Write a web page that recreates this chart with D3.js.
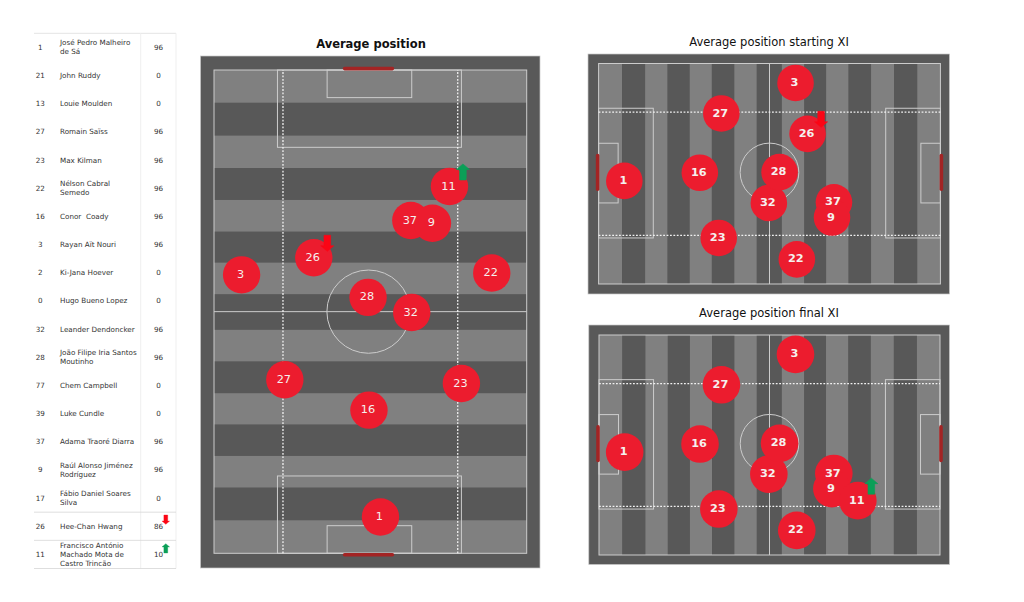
<!DOCTYPE html>
<html>
<head>
<meta charset="utf-8">
<style>
    html, body { margin: 0; background: #fff; }
    svg { display: block; }
    text { font-family: "DejaVu Sans", sans-serif; white-space: pre; }
</style>
<script src="https://d3js.org/d3.v7.min.js"></script>
</head>
<body>
<svg width="1024" height="602"></svg>
<script>
// table
var shirtNumbers = [1, 21, 13, 27, 23, 22, 16, 3, 2, 0, 32, 28, 77, 39, 37, 9, 17, 26, 11];
var playerNames = [
    ["José Pedro Malheiro", "de Sá"], ["John Ruddy"], ["Louie Moulden"], ["Romain Saïss"], ["Max Kilman"],
    ["Nélson Cabral", "Semedo"], ["Conor  Coady"], ["Rayan Aït Nouri"], ["Ki-Jana Hoever"], ["Hugo Bueno Lopez"],
    ["Leander Dendoncker"], ["João Filipe Iria Santos", "Moutinho"], ["Chem Campbell"], ["Luke Cundle"],
    ["Adama Traoré Diarra"], ["Raúl Alonso Jiménez", "Rodríguez"], ["Fábio Daniel Soares", "Silva"],
    ["Hee-Chan Hwang"], ["Francisco António", "Machado Mota de", "Castro Trincão"]
];
var minutesPlayed = [96, 0, 0, 96, 96, 96, 96, 96, 0, 0, 96, 96, 0, 0, 96, 96, 0, 86, 10];

// average positions, metres: along the pitch and across it
var positionNumbers = [1, 27, 23, 22, 16, 3, 32, 28, 37, 9, 26, 11];
var positionLength = [7.9, 37.7, 36.9, 60.9, 31.1, 60.5, 52.3, 55.6, 72.3, 71.7, 64.2, 79.7];
var positionWidth = [36.2, 15.4, 53.8, 60.4, 33.7, 6, 43, 33.5, 42.8, 47.5, 21.7, 51.2];

var startingXI = [1, 27, 23, 22, 16, 3, 32, 28, 37, 9, 26];
var finalXI = [1, 27, 23, 22, 16, 3, 32, 28, 37, 9, 11];
var subbedOff = 26, subbedOn = 11;

// mowing stripes, metres
var stripeEdges = [0, 7.2, 14.3, 21.2, 28, 34.8, 41.7, 48.6, 56.3, 63.2, 69.9, 76.8, 83.7, 90.8, 97.9, 105];

var svg = d3.select("svg");
var RED = "#ec1c2e", LINE = "#cccccc";

// arrow pointing up, flipped for the red one
var arrowShape = [[0, -8], [6.5, -2.5], [3.3, -2.5], [3.3, 8], [-3.3, 8], [-3.3, -2.5], [-6.5, -2.5]];
var arrowPath = "M" + arrowShape.join("L") + "Z";

function arrow(sel, cx, cy, up, scale) {
    sel.append("path")
        .attr("d", arrowPath)
        .attr("fill", up ? "#0a9f57" : "#fb0515")
        .attr("stroke", up ? "#0a9f57" : "#fb0515")
        .attr("stroke-width", 0.6)
        .attr("transform", "translate(" + cx + "," + cy + ") scale(" + scale + "," + (up ? scale : -scale) + ")");
}

/* ---------- table ---------- */
var rowY = d3.scaleBand().domain(d3.range(shirtNumbers.length)).range([33.3, 568.5]);
var tbl = svg.append("g");

tbl.append("line").attr("x1", 34).attr("x2", 176).attr("y1", 33.3).attr("y2", 33.3).attr("stroke", "#e4e4e4");
[140.7, 176].forEach(function(x) {
    tbl.append("line").attr("x1", x).attr("x2", x).attr("y1", 33.3).attr("y2", 568.5).attr("stroke", "#efefef");
});
[17, 18, 19].forEach(function(i) {
    var yy = i < 19 ? rowY(i) : 568.5;
    tbl.append("line").attr("x1", 34).attr("x2", 176).attr("y1", yy).attr("y2", yy).attr("stroke", "#d6d6d6").attr("stroke-width", 0.8);
});

var rows = tbl.selectAll(".row").data(shirtNumbers).enter().append("g")
    .attr("class", "row")
    .attr("transform", function(d, i) { return "translate(0," + (rowY(i) + rowY.bandwidth() / 2) + ")"; })
    .attr("font-size", 7.2)
    .attr("fill", "#333");

rows.append("text").attr("x", 40.3).attr("y", 2.5).attr("text-anchor", "middle").text(function(d) { return d; });
rows.append("text").attr("x", 158.5).attr("y", 2.5).attr("text-anchor", "middle").text(function(d, i) { return minutesPlayed[i]; });
rows.each(function(d, i) {
    var names = playerNames[i];
    d3.select(this).selectAll(".nm").data(names).enter().append("text")
        .attr("class", "nm")
        .attr("x", 60)
        .attr("y", function(n, j) { return 2.5 + (j - (names.length - 1) / 2) * 9.2; })
        .text(function(n) { return n; });
});
arrow(tbl, 165.8, rowY(17) + 7.5, false, 0.58);
arrow(tbl, 165.8, rowY(18) + 8, true, 0.58);

/* ---------- pitches ---------- */
function drawPitch(opt) {
    var g = svg.append("g");
    var across = d3.scaleLinear().domain([0, 68]);
    var along = d3.scaleLinear().domain([0, 105]);
    if (opt.vertical) {
        across.range([opt.px0, opt.px1]);
        along.range([opt.py1, opt.py0]);
    } else {
        along.range([opt.px0, opt.px1]);
        across.range([opt.py0, opt.py1]);
    }
    // pitch metres to screen
    function X(l, w) { return opt.vertical ? across(w) : along(l); }
    function Y(l, w) { return opt.vertical ? along(l) : across(w); }

    function box(l0, l1, w0, w1) {
        return {x: Math.min(X(l0, w0), X(l1, w1)), y: Math.min(Y(l0, w0), Y(l1, w1)),
            w: Math.abs(X(l1, w1) - X(l0, w0)), h: Math.abs(Y(l1, w1) - Y(l0, w0))};
    }
    function addRect(b) {
        return g.append("rect").attr("x", b.x).attr("y", b.y).attr("width", b.w).attr("height", b.h);
    }
    function addLine(l0, w0, l1, w1) {
        return g.append("line").attr("x1", X(l0, w0)).attr("y1", Y(l0, w0)).attr("x2", X(l1, w1)).attr("y2", Y(l1, w1));
    }

    g.append("rect").attr("x", opt.ox0).attr("y", opt.oy0).attr("width", opt.ox1 - opt.ox0).attr("height", opt.oy1 - opt.oy0)
        .attr("fill", "#595959").attr("stroke", "#c8c8c8").attr("stroke-width", 0.7);

    d3.range(stripeEdges.length - 1).forEach(function(i) {
        addRect(box(stripeEdges[i], stripeEdges[i + 1], 0, 68)).attr("fill", i % 2 ? "#585858" : "#808080");
    });

    // outline + boxes
    [addRect(box(0, 105, 0, 68)), addRect(box(0, 16.8, 13.8, 53.8)), addRect(box(105 - 16.8, 105, 13.8, 53.8)),
        addRect(box(0, 6, 24.6, 43)), addRect(box(99, 105, 24.6, 43))].forEach(function(r) {
        r.attr("fill", "none").attr("stroke", LINE).attr("stroke-width", 1);
    });
    addLine(52.5, 0, 52.5, 68).attr("stroke", LINE).attr("stroke-width", 1);
    g.append("circle").attr("cx", X(52.5, 33.6)).attr("cy", Y(52.5, 33.6))
        .attr("r", Math.abs(across(9.05) - across(0)))
        .attr("fill", "none").attr("stroke", LINE).attr("stroke-width", 1);

    // dotted channels
    [15, 53].forEach(function(w) {
        addLine(0, w, 105, w).attr("stroke", "#f2f2f2").attr("stroke-width", 1.3).attr("stroke-dasharray", "1.8,1.6");
    });

    // goals
    [-0.3, 105.3].forEach(function(l) {
        addLine(l, 28.4, l, 38.8).attr("stroke", "#a32424").attr("stroke-width", 3.6).attr("stroke-linecap", "round");
    });

    // players
    var players = opt.players.map(function(n) {
        var i = positionNumbers.indexOf(n);
        return {num: n, l: positionLength[i], w: positionWidth[i]};
    });
    g.selectAll(".player").data(players).enter().append("circle")
        .attr("class", "player")
        .attr("cx", function(d) { return X(d.l, d.w); })
        .attr("cy", function(d) { return Y(d.l, d.w); })
        .attr("r", opt.r)
        .attr("fill", RED);
    g.selectAll(".num").data(players).enter().append("text")
        .attr("class", "num")
        .attr("x", function(d) { return X(d.l, d.w) - 1; })
        .attr("y", function(d) { return Y(d.l, d.w) - 1; })
        .attr("dy", "0.36em")
        .attr("text-anchor", "middle")
        .attr("font-size", 11.3)
        .attr("font-weight", opt.bold ? "bold" : "normal")
        .attr("fill", "#f5f0ee")
        .text(function(d) { return d.num; });

    players.forEach(function(d) {
        if (d.num === subbedOff) arrow(g, X(d.l, d.w) + 13.5, Y(d.l, d.w) - 14.5, false, 1);
        if (d.num === subbedOn) arrow(g, X(d.l, d.w) + 13.5, Y(d.l, d.w) - 14.5, true, 1);
    });

    svg.append("text")
        .attr("x", opt.tx).attr("y", opt.ty)
        .attr("text-anchor", "middle")
        .attr("font-size", 11.5)
        .attr("font-weight", opt.titleBold ? "bold" : "normal")
        .attr("fill", "#111")
        .text(opt.title);
}

drawPitch({
    title: "Average position", titleBold: true, tx: 371, ty: 48,
    vertical: true, bold: false, r: 18.7,
    ox0: 200.5, ox1: 540, oy0: 56, oy1: 568,
    px0: 214, px1: 526.7, py0: 70, py1: 553.3,
    players: positionNumbers
});
drawPitch({
    title: "Average position starting XI", tx: 769, ty: 45.5,
    vertical: false, bold: true, r: 18.3,
    ox0: 588, ox1: 949.5, oy0: 54, oy1: 294,
    px0: 598.6, px1: 940.4, py0: 63.5, py1: 284,
    players: startingXI
});
drawPitch({
    title: "Average position final XI", tx: 769, ty: 317,
    vertical: false, bold: true, r: 18.8,
    ox0: 588.8, ox1: 949.5, oy0: 325, oy1: 564.5,
    px0: 599, px1: 940, py0: 335, py1: 555,
    players: finalXI
});
</script>
</body>
</html>
